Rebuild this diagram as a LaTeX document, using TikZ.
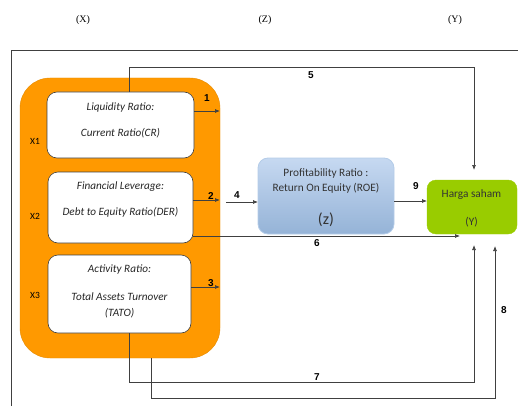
\documentclass[tikz,border=0pt]{standalone}
\usepackage{fontspec}
\setmainfont{Carlito}
\newfontfamily\serifx{Liberation Serif}
\newfontfamily\arialx{Liberation Sans}
\usetikzlibrary{arrows.meta,calc}
\definecolor{orangex}{HTML}{FF9900}
\definecolor{bluetop}{HTML}{C6D9F1}
\definecolor{bluebot}{HTML}{95B3D7}
\definecolor{blueedge}{HTML}{B4CCE8}
\definecolor{greenx}{HTML}{99CC00}
\definecolor{linex}{HTML}{404040}
\begin{document}
\begin{tikzpicture}[x=1pt,y=-1pt,
  obox/.style={draw=orangex!90!black, line width=0.4pt, fill=orangex, rounded corners=30pt, inner sep=0pt, outer sep=0pt},
  wbox/.style={draw=linex, line width=0.6pt, fill=white, rounded corners=10pt, inner sep=0pt, outer sep=0pt},
  zbox/.style={draw=blueedge, line width=0.8pt, top color=bluetop, bottom color=bluebot, rounded corners=10pt, inner sep=0pt, outer sep=0pt},
  ybox/.style={fill=greenx, draw=greenx, rounded corners=9pt, inner sep=0pt, outer sep=0pt},
  btxt/.style={font=\fontsize{11.2}{14}\selectfont\itshape, align=center, text=black!85},
  ztxt/.style={font=\fontsize{11.3}{15}\selectfont, align=center, text=black!80},
  conn/.style={draw=linex, line width=0.7pt, -{Latex[length=5pt,width=4pt]}},
  num/.style={font=\arialx\bfseries\fontsize{10}{11}\selectfont, inner sep=0pt},
  head/.style={font=\serifx\fontsize{10}{12}\selectfont, inner sep=0pt},
  xl/.style={font=\fontsize{9.5}{10}\selectfont, inner sep=0pt}
]
\useasboundingbox (0,0) rectangle (518,406);

% heads
\node[head] (hx) at (83,20) {(X)};
\node[head] (hz) at (265,20) {(Z)};
\node[head] (hy) at (455,20) {(Y)};

% outer frame
\coordinate (f1) at (11,406);
\coordinate (f2) at (11,50);
\coordinate (f3) at (518,50);
\draw[draw=linex, line width=0.7pt] (f1) -- (f2) -- (f3);

% orange container
\node[obox, minimum width=200pt, minimum height=280pt] (o) at (120,218) {};

% white boxes
\node[wbox, minimum width=147pt, minimum height=66pt] (b1) at (120.5,125) {};
\node[btxt] (t1) at (120.5,120) {Liquidity Ratio:\\[12pt]Current Ratio(CR)};
\node[wbox, minimum width=145pt, minimum height=71pt] (b2) at (120.5,207.5) {};
\node[btxt] (t2) at (120.5,200) {Financial Leverage:\\[12pt]Debt to Equity Ratio(DER)};
\node[wbox, minimum width=143pt, minimum height=78pt] (b3) at (119.5,294) {};
\node[btxt] (t3) at (119.5,291) {Activity Ratio:\\[14pt]Total Assets Turnover\\[2pt](TATO)};

\node[xl] (x1) at (35,141) {X1};
\node[xl] (x2) at (35,216) {X2};
\node[xl] (x3) at (35,295) {X3};

% Z box
\node[zbox, minimum width=136pt, minimum height=76pt] (z) at (326,196) {};
\node[ztxt] (zt) at (326,181) {Profitability Ratio :\\Return On Equity (ROE)};
\node[font=\fontsize{16}{18}\selectfont, text=black!80, inner sep=0pt] (zl) at (326,220) {(z)};

% Y box
\node[ybox, minimum width=90pt, minimum height=54pt] (y) at (472,207) {};
\node[font=\fontsize{11.3}{13}\selectfont, text=black!80, inner sep=0pt] (yt1) at (471.5,195) {Harga saham};
\node[font=\fontsize{11.3}{13}\selectfont, text=black!80, inner sep=0pt] (yt2) at (471.5,222) {(Y)};

% connectors
\draw[conn] ([xshift=8.5pt]b1.north) -- ++(0,-25) -| ([xshift=2pt,yshift=10pt]y.north);
\draw[conn] ([yshift=14pt]b1.east) -- ([yshift=14pt]b1.east -| o.east);
\draw[conn] ([yshift=7.5pt]b2.east) -- ([yshift=7.5pt]b2.east -| o.east);
\draw[conn] ([yshift=-6pt,xshift=-32pt]z.west) -- ([yshift=-6pt]z.west);
\draw[conn] ([yshift=-5pt]z.east) -- ([yshift=6pt]y.west);
\coordinate (s6) at ([yshift=7pt]b2.south east);
\coordinate (e6) at ([xshift=33pt]y.south west);
\draw[conn] (s6) -- (s6 -| e6);
\draw[conn] ([yshift=7pt]b3.east) -- ([yshift=7pt]b3.east -| o.east);
\draw[conn] ([xshift=9.5pt]b3.south) -- ++(0,49) -| ([xshift=2pt,yshift=-11pt]y.south);
\draw[conn] ([xshift=31pt]o.south) -- ++(0,40) -| ([xshift=23pt,yshift=-12pt]y.south);

% numbers
\node[num] (n1) at (207,98) {1};
\node[num] (n2) at (211,196) {2};
\node[num] (n3) at (211,283) {3};
\node[num] (n4) at (237,195) {4};
\node[num] (n5) at (311,75) {5};
\node[num] (n6) at (317,243) {6};
\node[num] (n7) at (317,377) {7};
\node[num] (n8) at (504,310) {8};
\node[num] (n9) at (416,186) {9};
\end{tikzpicture}
\end{document}
